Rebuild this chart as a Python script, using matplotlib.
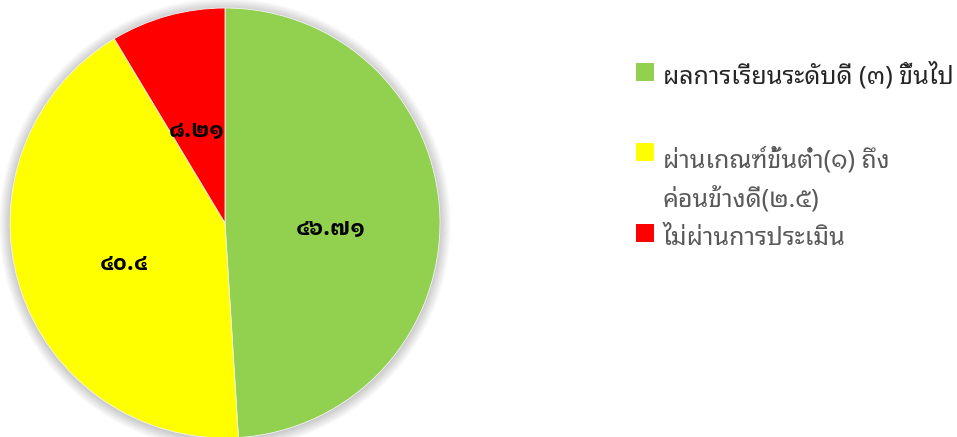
import matplotlib
matplotlib.use("Agg")
import matplotlib.pyplot as plt
from matplotlib.patches import Circle, Rectangle
from matplotlib.transforms import offset_copy

plt.rcParams["font.family"] = ["Noto Sans Thai Looped", "DejaVu Sans"]

categories = [
    "ผลการเรียนระดับดี (๓) ขึ้นไป",
    "ผ่านเกณฑ์ขั้นต่ำ(๑) ถึง\nค่อนข้างดี(๒.๕)",
    "ไม่ผ่านการประเมิน",
]
values = [46.71, 40.4, 8.21]
colors = ["#92D050", "#FFFF00", "#FF0000"]

thai_digits = str.maketrans("0123456789", "๐๑๒๓๔๕๖๗๘๙")


def to_thai(v):
    return ("%g" % v).translate(thai_digits)


fig = plt.figure(figsize=(9.57, 4.37), dpi=100)
W, H = 957, 437

# pie axes: centre (225, 223) px, radius ~215 px
ax = fig.add_axes([10 / W, -1 / H, 430 / W, 430 / H])

# soft shadow round the pie
for i in range(18):
    ax.add_patch(Circle((0.0, -0.005), 1.0 + i * 0.003, color="#000000",
                        alpha=0.012, lw=0, zorder=0, clip_on=False))

wedges, texts, autotexts = ax.pie(
    values, colors=colors, startangle=90, counterclock=False,
    autopct="%1.1f", pctdistance=0.49, radius=1,
    wedgeprops=dict(edgecolor="#f4f4f4", linewidth=0.6),
)

ax.set_xlim(-1, 1)
ax.set_ylim(-1, 1)
ax.set_aspect("equal")
ax.axis("off")

shift = offset_copy(ax.transData, fig=fig, x=0, y=-9, units="dots")
for t, v in zip(autotexts, values):
    t.set_text(to_thai(v))
    t.set_family(["IBM Plex Sans Thai Looped", "DejaVu Sans"])
    t.set_fontsize(16)
    t.set_fontweight("bold")
    t.set_color("black")
    t.set_transform(shift)

# legend drawn by hand to match the Excel layout
sq = 18
entries = [
    (71.5, [83]),
    (152, [168, 207]),
    (233, [245]),
]
text_colors = ["#262626", "#595959", "#595959"]
for (cy, baselines), lab, c, tc in zip(entries, categories, colors, text_colors):
    fig.patches.append(Rectangle((636 / W, 1 - (cy + sq / 2) / H), sq / W, sq / H,
                                 transform=fig.transFigure, facecolor=c,
                                 edgecolor="none", figure=fig))
    for line, by in zip(lab.split("\n"), baselines):
        fig.text(663 / W, 1 - by / H, line, fontsize=18, color=tc,
                 ha="left", va="baseline")

fig.savefig("out.png", dpi=100)
